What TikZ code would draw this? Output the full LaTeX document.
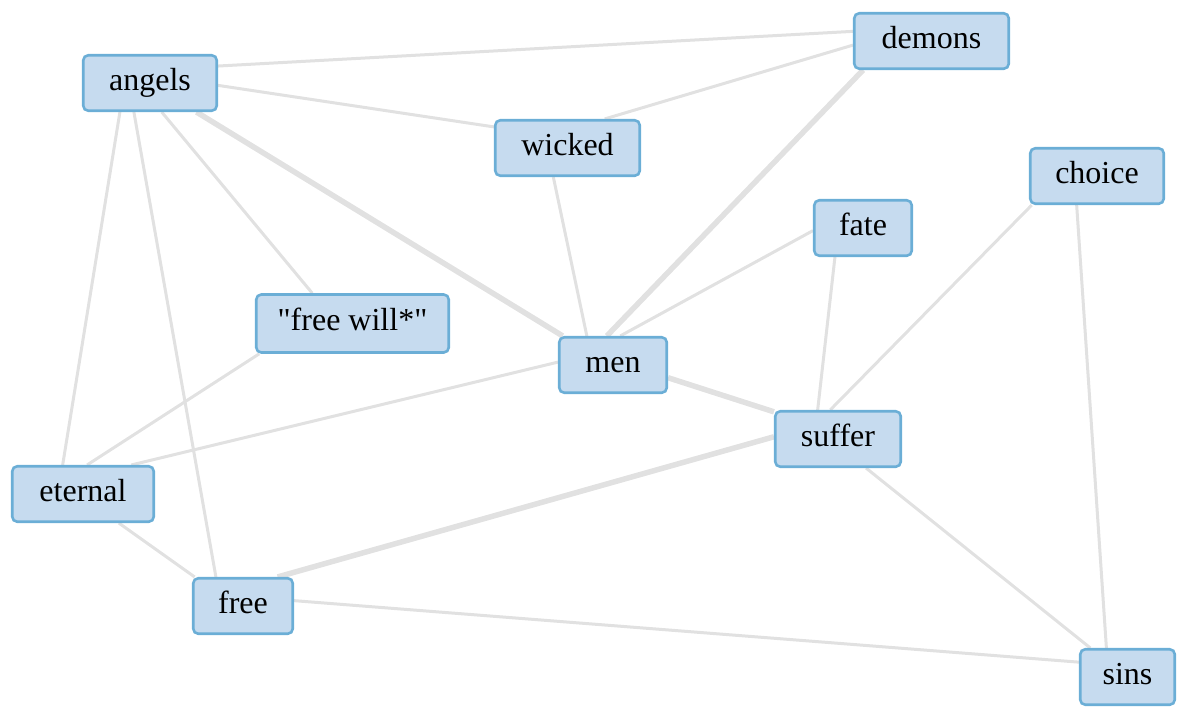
\documentclass[tikz,border=0pt]{standalone}
\usepackage{fontspec}
\setmainfont{Liberation Serif}
% same face, without the TeX quote mapping, so " stays straight
\newfontfamily\plainserif{Liberation Serif}
\usetikzlibrary{backgrounds}
\definecolor{boxfill}{RGB}{198,219,239}
\definecolor{boxline}{RGB}{107,174,214}
\definecolor{linkgray}{RGB}{225,225,225}
\tikzset{
  term/.style={draw=boxline, fill=boxfill, line width=2.6pt, rounded corners=5pt,
    inner sep=0pt, minimum height=55.5pt, text height=21pt, text depth=7pt,
    font=\plainserif\fontsize{32}{36}\selectfont, text=black},
  link/.style={draw=linkgray, line width=3pt},
  strong/.style={draw=linkgray, line width=5.5pt},
}
\begin{document}
\begin{tikzpicture}[x=1pt, y=-1pt]
\useasboundingbox (0,0) rectangle (1177,707);

% term boxes
\node[term, minimum width=133.5pt] (angels)   at (150,83)     {angels};
\node[term, minimum width=154.5pt] (demons)   at (931.5,41)   {demons};
\node[term, minimum width=144.5pt] (wicked)   at (567.5,148)  {wicked};
\node[term, minimum width=133.5pt] (choice)   at (1097,176)   {choice};
\node[term, minimum width=97.5pt]  (fate)     at (863,228)    {fate};
\node[term, minimum width=192.5pt, minimum height=58pt] (freewill) at (352.5,323.5) {"free will*"};
\node[term, minimum width=107.5pt] (men)      at (613,365)    {men};
\node[term, minimum width=125.5pt] (suffer)   at (838,439)    {suffer};
\node[term, minimum width=141.5pt] (eternal)  at (83,494)     {eternal};
\node[term, minimum width=99.5pt]  (free)     at (243,606)    {free};
\node[term, minimum width=94.5pt]  (sins)     at (1127.5,677) {sins};

% links between terms
\begin{scope}[on background layer]
  \draw[link]   (angels.14)     -- (demons.173.5);
  \draw[link]   (angels.-2.5)   -- (wicked.164.8);
  \draw[strong] (angels.-32.6)  -- (men.150.8);
  \draw[link]   (angels.-68.2)  -- (freewill.143);
  \draw[link]   (angels.-136.8) -- (eternal.125.9);
  \draw[link]   (angels.-119.5) -- (free.133);
  \draw[link]   (demons.-177.1) -- (wicked.38.5);
  \draw[strong] (demons.-157.1) -- (men.102.1);
  \draw[link]   (wicked.-116.6) -- (men.132.9);
  \draw[link]   (fate.-177.7)   -- (men.76);
  \draw[link]   (fate.-134)     -- (suffer.125.9);
  \draw[link]   (choice.-156)   -- (suffer.105.4);
  \draw[link]   (choice.-125.9) -- (sins.126.6);
  \draw[link]   (men.177.9)     -- (eternal.31.1);
  \draw[link]   (freewill.-162.1) -- (eternal.82.1);
  \draw[strong] (men.-13.3)     -- (suffer.157.1);
  \draw[link]   (eternal.-39.6) -- (free.149.9);
  \draw[strong] (suffer.178.2)  -- (free.40.5);
  \draw[link]   (free.6.7)      -- (sins.163.9);
  \draw[link]   (suffer.-46)    -- (sins.142.3);
\end{scope}
\end{tikzpicture}
\end{document}
